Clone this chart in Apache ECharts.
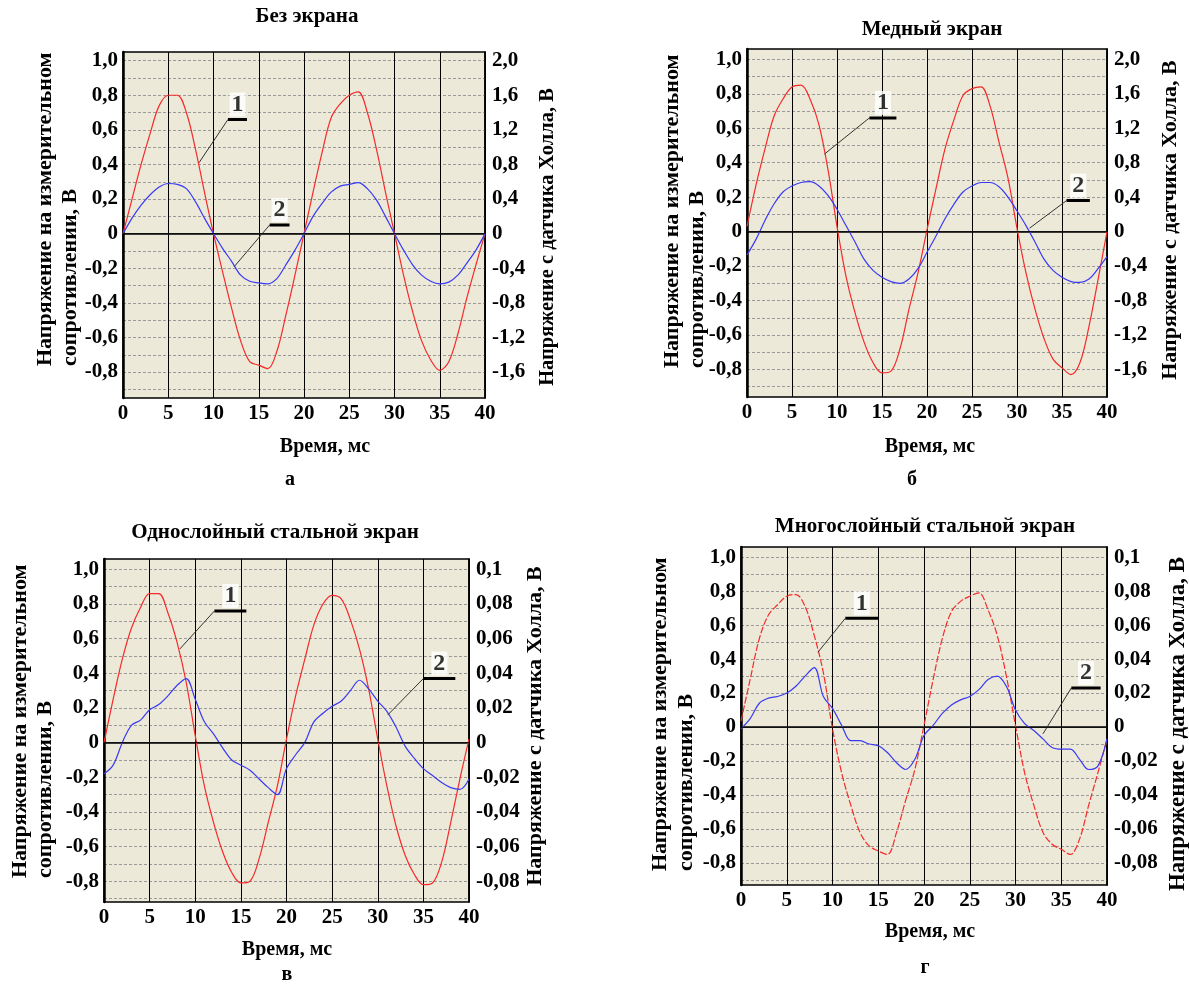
<!DOCTYPE html>
<html><head><meta charset="utf-8">
<script src="https://cdn.jsdelivr.net/npm/echarts@6/dist/echarts.min.js"></script>
<style>html,body{margin:0;padding:0;background:#fff}#c{width:1189px;height:987px}</style>
</head><body><div id="c"></div>
<script>
// ---------- DATA ----------
const time = [0,1,2,3,4,5,6,7,8,9,10,11,12,13,14,15,16,17,18,19,20,21,22,23,24,25,26,27,28,29,30,31,32,33,34,35,36,37,38,39,40];

// а — Без экрана (red: left axis, V; blue: right axis, V)
const redA  = [0,0.20,0.40,0.58,0.74,0.80,0.80,0.70,0.49,0.24,0,-0.22,-0.43,-0.62,-0.74,-0.76,-0.78,-0.68,-0.47,-0.24,0,0.24,0.47,0.67,0.75,0.80,0.82,0.70,0.49,0.24,0,-0.24,-0.45,-0.62,-0.73,-0.79,-0.74,-0.58,-0.37,-0.18,0];
const blueA = [0,0.18,0.33,0.45,0.54,0.58,0.57,0.52,0.37,0.18,0,-0.17,-0.32,-0.48,-0.55,-0.57,-0.58,-0.52,-0.36,-0.19,0,0.20,0.35,0.48,0.55,0.57,0.59,0.52,0.39,0.20,0,-0.19,-0.36,-0.48,-0.55,-0.58,-0.56,-0.48,-0.34,-0.19,0];

// б — Медный экран
const redB  = [0.03,0.27,0.48,0.67,0.77,0.84,0.85,0.77,0.62,0.36,0.03,-0.26,-0.47,-0.64,-0.76,-0.82,-0.81,-0.68,-0.45,-0.24,0.01,0.25,0.48,0.65,0.79,0.83,0.84,0.73,0.52,0.31,0.02,-0.24,-0.45,-0.62,-0.74,-0.79,-0.83,-0.76,-0.55,-0.28,0];
const blueB = [-0.27,-0.09,0.13,0.32,0.46,0.53,0.57,0.58,0.53,0.42,0.26,0.07,-0.12,-0.32,-0.45,-0.53,-0.58,-0.60,-0.55,-0.43,-0.24,-0.05,0.15,0.32,0.46,0.53,0.57,0.57,0.52,0.40,0.24,0.07,-0.12,-0.32,-0.45,-0.53,-0.58,-0.59,-0.55,-0.43,-0.29];

// в — Однослойный стальной экран
const redV  = [0,0.25,0.48,0.66,0.78,0.86,0.86,0.75,0.58,0.35,0.04,-0.25,-0.46,-0.63,-0.75,-0.81,-0.80,-0.67,-0.46,-0.25,0.02,0.27,0.48,0.68,0.80,0.85,0.83,0.71,0.54,0.31,0.02,-0.25,-0.48,-0.65,-0.76,-0.82,-0.81,-0.69,-0.46,-0.21,0.02];
const blueV = [-0.018,-0.013,0,0.010,0.013,0.019,0.022,0.027,0.033,0.037,0.025,0.012,0.005,-0.003,-0.010,-0.013,-0.016,-0.021,-0.026,-0.030,-0.015,-0.007,0,0.012,0.017,0.021,0.024,0.030,0.036,0.031,0.024,0.018,0.009,-0.002,-0.009,-0.015,-0.019,-0.023,-0.026,-0.027,-0.021];

// г — Многослойный стальной экран
const redG  = [0.035,0.28,0.52,0.66,0.72,0.77,0.78,0.71,0.54,0.32,-0.01,-0.27,-0.46,-0.62,-0.70,-0.73,-0.75,-0.62,-0.43,-0.25,0.01,0.28,0.52,0.68,0.74,0.77,0.79,0.69,0.54,0.30,0.01,-0.27,-0.46,-0.62,-0.69,-0.72,-0.75,-0.66,-0.46,-0.27,-0.07];
const blueG = [-0.001,0.005,0.014,0.017,0.018,0.020,0.024,0.030,0.035,0.018,0.011,0.001,-0.008,-0.008,-0.010,-0.011,-0.015,-0.021,-0.025,-0.019,-0.005,0.001,0.008,0.013,0.016,0.018,0.022,0.028,0.030,0.024,0.010,0.002,-0.002,-0.007,-0.012,-0.013,-0.013,-0.019,-0.025,-0.023,-0.007];

// tick labels
const leftTicks   = [-0.8,-0.6,-0.4,-0.2,0,0.2,0.4,0.6,0.8,1.0];
const gridTicks   = [-0.9,-0.8,-0.7,-0.6,-0.5,-0.4,-0.3,-0.2,-0.1,0,0.1,0.2,0.3,0.4,0.5,0.6,0.7,0.8,0.9,1.0];
const rightTicksHall  = [-1.6,-1.2,-0.8,-0.4,0,0.4,0.8,1.2,1.6,2.0];
const rightTicksSmall = [-0.08,-0.06,-0.04,-0.02,0,0.02,0.04,0.06,0.08,0.1];

// texts
const panelTitles = ['Без экрана','Медный экран','Однослойный стальной экран','Многослойный стальной экран'];
const panelLetters = ['а','б','в','г'];
const xName = 'Время, мс';
const leftName1 = 'Напряжение на измерительном';
const leftName2 = 'сопротивлении, В';
const rightName = 'Напряжение с датчика Холла, В';

// callouts (data units of left axis): tip, elbow, end of shelf
const calloutsA = [{n:'1',tip:[8.4,0.41],elbow:[11.6,0.66],end:13.7},{n:'2',tip:[12.3,-0.19],elbow:[16.2,0.05],end:18.4}];
const calloutsB = [{n:'1',tip:[8.6,0.45],elbow:[13.6,0.66],end:16.6},{n:'2',tip:[31.4,0.02],elbow:[35.5,0.18],end:38.1}];
const calloutsV = [{n:'1',tip:[8.3,0.54],elbow:[12.1,0.76],end:15.6},{n:'2',tip:[31.1,0.16],elbow:[35.0,0.37],end:38.5}];
const calloutsG = [{n:'1',tip:[8.4,0.44],elbow:[11.4,0.64],end:15.0},{n:'2',tip:[33.0,-0.04],elbow:[36.1,0.23],end:39.3}];

// ---------- LAYOUT ----------
const FONT = '"Liberation Serif","Times New Roman",serif';
const panels = [
  {grid:{left:123,top:52,width:362,height:346}, yMin:-0.95,yMax:1.05, k:2,   rTicks:rightTicksHall,  red:redA, blue:blueA, call:calloutsA, dashRed:false,
   title:[307,17], letter:[290,480], xTitle:[325,447], l1:[45,366], l2:[70,366], rT:[548,237], rSize:20.5},
  {grid:{left:747,top:49,width:360,height:348}, yMin:-0.96,yMax:1.06, k:2,   rTicks:rightTicksHall,  red:redB, blue:blueB, call:calloutsB, dashRed:false,
   title:[932,30], letter:[912,480], xTitle:[930,447], l1:[672,368], l2:[697,368], rT:[1170,220], rSize:22},
  {grid:{left:104,top:559,width:365,height:343}, yMin:-0.92,yMax:1.06, k:0.1, rTicks:rightTicksSmall, red:redV, blue:blueV, call:calloutsV, dashRed:false,
   title:[275,533], letter:[287,975], xTitle:[287,950], l1:[20,878], l2:[45,878], rT:[535,726], rSize:22},
  {grid:{left:741,top:547,width:366,height:338}, yMin:-0.93,yMax:1.06, k:0.1, rTicks:rightTicksSmall, red:redG, blue:blueG, call:calloutsG, dashRed:true,
   title:[925,527], letter:[925,968], xTitle:[930,932], l1:[660,871], l2:[686,871], rT:[1178,724], rSize:23}
];

function fmtLeft(v){ return Math.abs(v)<1e-9 ? '0' : v.toFixed(1).replace('.',','); }
function fmtRight(k){
  return function(v){
    if (Math.abs(v)<1e-9) return '0';
    if (k===2) return v.toFixed(1).replace('.',',');
    if (Math.abs(v-0.1)<1e-9) return '0,1';
    return v.toFixed(2).replace('.',',');
  };
}

const grids=[], xAxes=[], yAxes=[], series=[], graphics=[];
const labelStyle = {fontFamily:FONT, fontWeight:'bold', fontSize:21, color:'#000'};

panels.forEach((p,i)=>{
  grids.push(Object.assign({show:true, backgroundColor:'#ECE9D8', borderColor:'#000', borderWidth:1.5, containLabel:false}, p.grid));
  xAxes.push({type:'value', gridIndex:i, min:0, max:40, interval:5,
    axisLine:{show:true, lineStyle:{color:'#000', width:1.5}},
    axisTick:{show:false},
    axisLabel:Object.assign({margin:5}, labelStyle),
    splitLine:{show:true, lineStyle:{color:'#000', width:1}}});
  yAxes.push({type:'value', gridIndex:i, position:'left', min:p.yMin, max:p.yMax,
    axisLine:{show:true, lineStyle:{color:'#000', width:2.5}},
    axisTick:{show:false, customValues:gridTicks},
    axisLabel:Object.assign({margin:5, customValues:leftTicks, formatter:fmtLeft}, labelStyle),
    splitLine:{show:true, lineStyle:{color:'#9a9a9a', width:1, type:[3,2]}}});
  yAxes.push({type:'value', gridIndex:i, position:'right', min:p.yMin*p.k, max:p.yMax*p.k,
    axisLine:{show:true, lineStyle:{color:'#000', width:1.5}},
    axisTick:{show:false, customValues:p.rTicks},
    axisLabel:Object.assign({margin:7, customValues:p.rTicks, formatter:fmtRight(p.k)}, labelStyle),
    splitLine:{show:false}});
  const ly = yAxes.length-2, ry = yAxes.length-1;
  series.push({type:'line', xAxisIndex:i, yAxisIndex:ly, data:time.map((t,j)=>[t,p.red[j]]),
    showSymbol:false, smooth:0.35, lineStyle:{color:'#f52a2a', width:1.2, type: p.dashRed?[7,2]:'solid'}, z:3,
    markLine:{silent:true, symbol:'none', label:{show:false}, lineStyle:{color:'#111', width:1.2, type:'solid'}, data:[{yAxis:0}]}});
  series.push({type:'line', xAxisIndex:i, yAxisIndex:ry, data:time.map((t,j)=>[t,p.blue[j]]),
    showSymbol:false, smooth:0.35, lineStyle:{color:'#3a3af5', width:1.2}, z:3});
  p.call.forEach(c=>{
    series.push({type:'line', xAxisIndex:i, yAxisIndex:ly, data:[c.tip,c.elbow], showSymbol:false, silent:true,
      lineStyle:{color:'#333', width:1}, z:4});
    series.push({type:'line', xAxisIndex:i, yAxisIndex:ly, data:[c.elbow,[c.end,c.elbow[1]]], showSymbol:false, silent:true,
      lineStyle:{color:'#000', width:3}, z:4});
    series.push({type:'scatter', xAxisIndex:i, yAxisIndex:ly, data:[[(c.elbow[0]+c.end)/2, c.elbow[1]]], symbolSize:0, silent:true, z:5,
      label:{show:true, position:'top', distance:3, formatter:c.n, fontFamily:FONT, fontWeight:'bold', fontSize:24, color:'#000', backgroundColor:'#fff', padding:[0,2,0,2]}});
  });
  const t = (x,y,text,size,extra)=>Object.assign({type:'text', x:x, y:y, silent:true,
      style:{text:text, font:'bold '+size+'px '+FONT, fill:'#000', textAlign:'center', textVerticalAlign:'middle'}}, extra||{});
  graphics.push(t(p.title[0],p.title[1],panelTitles[i],21));
  graphics.push(t(p.letter[0],p.letter[1],panelLetters[i],20));
  graphics.push(t(p.xTitle[0],p.xTitle[1],xName,20));
  const g1 = t(p.l1[0],p.l1[1],leftName1,22,{rotation:Math.PI/2}); g1.style.textAlign='left';
  const g2 = t(p.l2[0],p.l2[1],leftName2,22,{rotation:Math.PI/2}); g2.style.textAlign='left';
  graphics.push(g1, g2);
  graphics.push(t(p.rT[0],p.rT[1],rightName,p.rSize,{rotation:Math.PI/2}));
});

const chart = echarts.init(document.getElementById('c'), null, {renderer:'canvas'});
chart.setOption({
  backgroundColor:'#fff', animation:false,
  grid:grids, xAxis:xAxes, yAxis:yAxes, series:series, graphic:graphics
});
</script></body></html>
